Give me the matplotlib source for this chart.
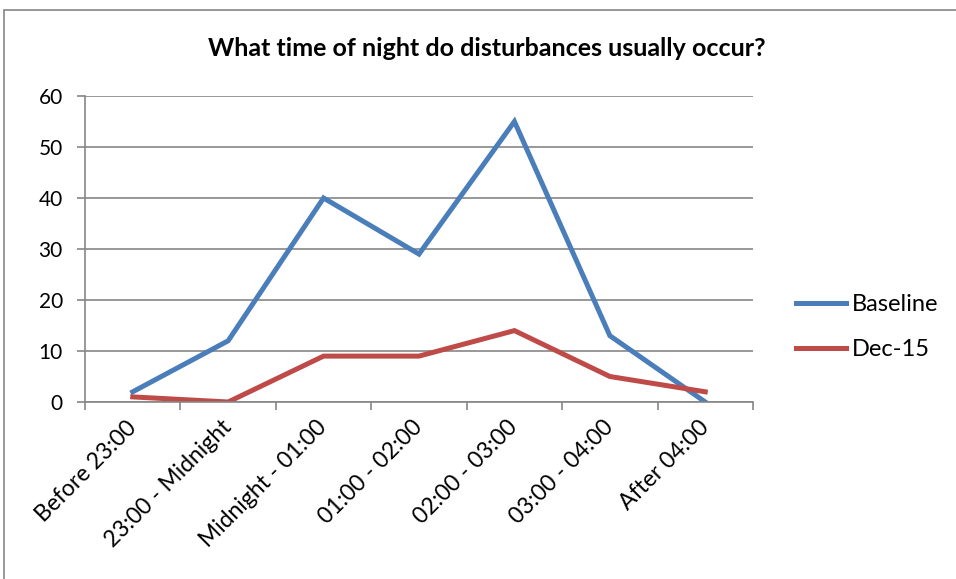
import numpy as np
import matplotlib; matplotlib.use("Agg")
import matplotlib.pyplot as plt
from matplotlib.patches import Rectangle

categories = ["Before 23:00", "23:00 - Midnight", "Midnight - 01:00", "01:00 - 02:00",
              "02:00 - 03:00", "03:00 - 04:00", "After 04:00"]
baseline = [2, 12, 40, 29, 55, 13, 0]
dec15 = [1, 0, 9, 9, 14, 5, 2]
yticks = [0, 10, 20, 30, 40, 50, 60]

plt.rcParams["font.family"] = ["Lato", "DejaVu Sans"]
GREY = "#868686"

W, H = 956, 579
fig = plt.figure(figsize=(W/100, H/100), dpi=100)
# outer chart border (cropped on right/bottom)
fig.patches.append(Rectangle((4/W, -0.1), 1.2, 1.1 - 10/H, transform=fig.transFigure,
                             fill=False, edgecolor=GREY, lw=1.2))

ax = fig.add_axes([85/W, 1-402/H, (753-85)/W, (402-96)/H])
x = np.arange(len(categories))
ax.plot(x, baseline, color="#4A7EBB", lw=3.6, solid_joinstyle="miter", label="Baseline")
ax.plot(x, dec15, color="#BE4B48", lw=3.6, solid_joinstyle="miter", label="Dec-15")

ax.set_xlim(-0.5, len(categories)-0.5)
ax.set_ylim(0, 60)
ax.set_yticks(yticks)
ax.yaxis.grid(True, color=GREY, lw=1.2)
ax.set_axisbelow(True)
for s in ["top", "right"]:
    ax.spines[s].set_visible(False)
for s in ["left", "bottom"]:
    ax.spines[s].set_color(GREY)
    ax.spines[s].set_linewidth(1.2)

ax.set_xticks(np.arange(len(categories)+1)-0.5, minor=False)
ax.set_xticklabels([])
ax.set_xticks(x, minor=True)
ax.set_xticklabels(categories, minor=True, rotation=45, ha="right", va="center",
                   rotation_mode="anchor", fontsize=16.5)
ax.tick_params(axis="x", which="major", length=6, color=GREY, width=1.2)
ax.tick_params(axis="x", which="minor", length=0, pad=16)
ax.tick_params(axis="y", length=6, color=GREY, width=1.2, labelsize=15, pad=10)

fig.text(487/W, 1-48/H, "What time of night do disturbances usually occur?",
         ha="center", va="center", fontsize=18, fontweight="bold")

ax.legend(loc="center left", bbox_to_anchor=(775/W, 1-327/H), bbox_transform=fig.transFigure,
          frameon=False, fontsize=17, handlelength=2.1, handletextpad=0.25, labelspacing=1.0)

fig.savefig("out.png", dpi=100)
